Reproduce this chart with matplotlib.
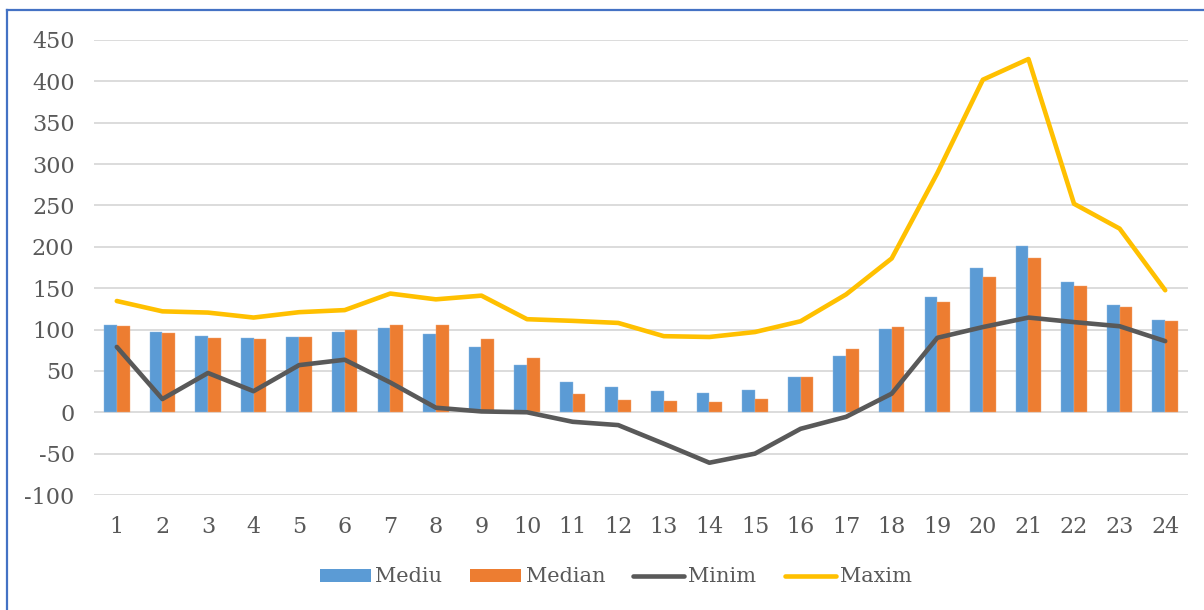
import numpy as np
import matplotlib.pyplot as plt
from matplotlib.patches import Patch
from matplotlib.lines import Line2D

hours = list(range(1, 25))

mediu = [105, 96.5, 92, 89.5, 90.5, 96.5, 101.5, 95, 79, 57, 37, 31, 26, 23,
         26.5, 43, 68, 100.5, 139, 175, 201, 157, 129.5, 111]
median = [104, 96, 90, 89, 91.5, 99, 106, 105, 89, 66, 22.5, 14.5, 13.5, 13,
          15.5, 43, 77, 103.5, 133.5, 164, 187, 153, 127, 110]
minim = [79, 16, 47.5, 25.5, 57, 63.5, 36, 5.5, 1, 0, -11.5, -15.5, -38, -61,
         -50, -20, -5.5, 22.5, 90, 103, 114.5, 109, 104, 86]
maxim = [134.5, 122, 120.5, 114.5, 121, 123.5, 143.5, 136.5, 141, 112.5, 110.5,
         108, 92, 91, 97, 110, 142.5, 186, 289, 402, 427, 252, 222, 147.5]

yticks = [-100, -50, 0, 50, 100, 150, 200, 250, 300, 350, 400, 450]

blue = '#5B9BD5'
orange = '#ED7D31'
gray = '#595959'
gold = '#FFC000'
txt = '#595959'

plt.rcParams['font.family'] = ['DejaVu Serif']
plt.rcParams['axes.unicode_minus'] = False

fig = plt.figure(figsize=(12.04, 6.10), dpi=100)
ax = fig.add_axes([94 / 1204, 1 - 495 / 610, (1188 - 94) / 1204, (495 - 40) / 610])

x = np.array(hours)
w = 0.28
ax.bar(x - w / 2, mediu, width=w, color=blue, edgecolor='#8DB9E3', linewidth=0.3, zorder=2)
ax.bar(x + w / 2, median, width=w, color=orange, edgecolor='#F3A571', linewidth=0.3, zorder=2)
ax.plot(x, minim, color=gray, linewidth=3.3, solid_capstyle='round',
        solid_joinstyle='round', zorder=3)
ax.plot(x, maxim, color=gold, linewidth=3.3, solid_capstyle='round',
        solid_joinstyle='round', zorder=4)

ax.set_xlim(0.5, 24.5)
ax.set_ylim(-100, 450)
ax.set_yticks(yticks)
ax.set_xticks(x)
ax.set_xticklabels([str(h) for h in hours])
ax.grid(axis='y', color='#D9D9D9', linewidth=1.3, zorder=0)
ax.set_axisbelow(True)
for s in ax.spines.values():
    s.set_visible(False)
ax.tick_params(axis='both', length=0, labelsize=16, colors=txt)
ax.tick_params(axis='y', pad=14)
ax.tick_params(axis='x', pad=15)

handles = [
    Patch(facecolor=blue, edgecolor='none'),
    Patch(facecolor=orange, edgecolor='none'),
    Line2D([], [], color=gray, linewidth=3.3, solid_capstyle='round'),
    Line2D([], [], color=gold, linewidth=3.3, solid_capstyle='round'),
]
leg = fig.legend(handles, ['Mediu', 'Median', 'Minim', 'Maxim'],
                 loc='center', bbox_to_anchor=(616 / 1204, 1 - 577 / 610),
                 ncol=4, frameon=False, fontsize=15, handlelength=2.45,
                 handleheight=0.6, handletextpad=0.2, columnspacing=1.35)
for t in leg.get_texts():
    t.set_color(txt)

# chart border (only top and left visible in the crop)
fig.add_artist(Line2D([7 / 1204, 7 / 1204], [0, 1 - 10 / 610], color='#4472C4',
                      linewidth=1.6, transform=fig.transFigure))
fig.add_artist(Line2D([7 / 1204, 1], [1 - 10 / 610, 1 - 10 / 610], color='#4472C4',
                      linewidth=1.6, transform=fig.transFigure))

fig.savefig('out.png', dpi=100)
